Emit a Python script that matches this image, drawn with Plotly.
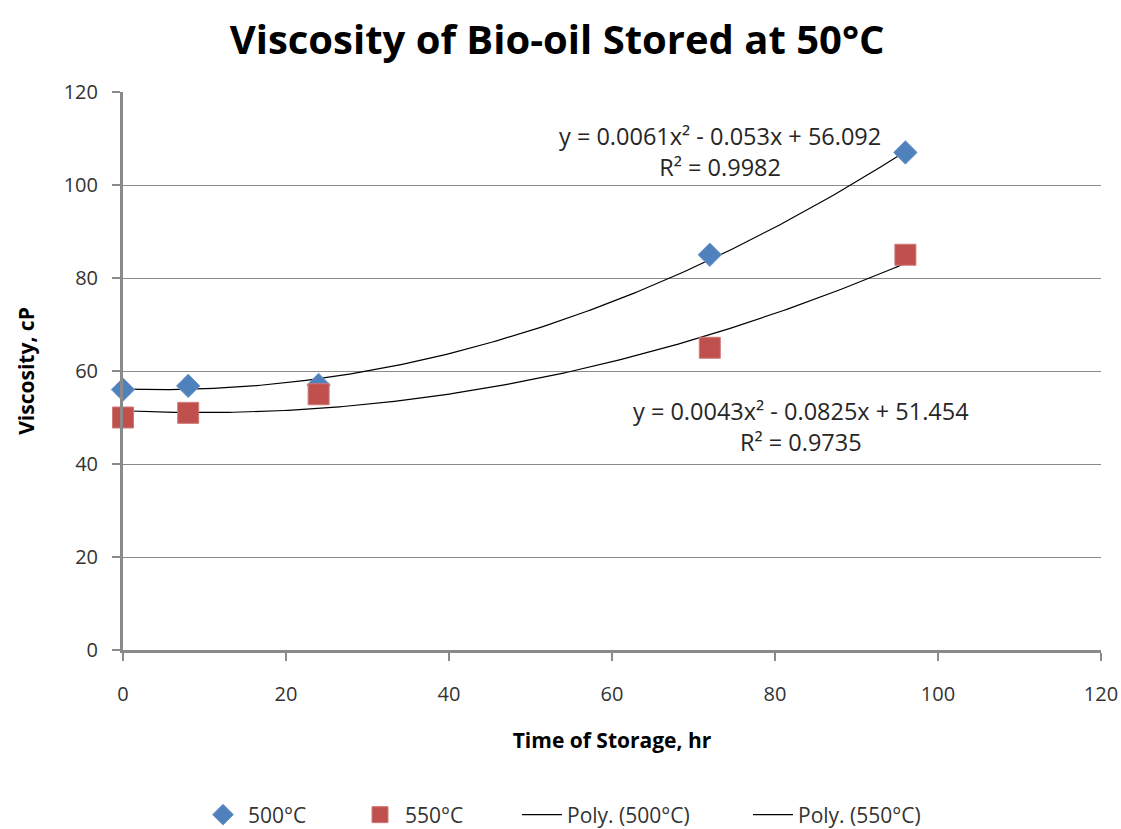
import numpy as np
import plotly.graph_objects as go

# Storage time (hr) and measured viscosity (cP)
hours = [0, 8, 24, 72, 96]
visc_500 = [56, 56.8, 57, 85, 107]
visc_550 = [50, 51, 55, 65, 85]

# Second-order polynomial trendline coefficients (a, b, c) for y = a x^2 + b x + c
coef_500 = [0.0061, -0.053, 56.092]
coef_550 = [0.0043, -0.0825, 51.454]
r2_500 = 0.9982
r2_550 = 0.9735

FONT = "Open Sans"
AXIS_GREY = "#8a8a8a"
TEXT = "#333333"
W, H = 1121, 829

xs = np.linspace(min(hours), max(hours), 200)


def poly(c, x):
    return c[0] * x ** 2 + c[1] * x + c[2]


fig = go.Figure()
# trendlines first so the markers are drawn on top of them
fig.add_trace(go.Scatter(
    x=xs, y=poly(coef_500, xs), mode="lines", name="Poly. (500°C)",
    legend="legend3",
    line=dict(color="black", width=1.2),
))
fig.add_trace(go.Scatter(
    x=xs, y=poly(coef_550, xs), mode="lines", name="Poly. (550°C)",
    legend="legend4",
    line=dict(color="black", width=1.2),
))
fig.add_trace(go.Scatter(
    x=hours, y=visc_500, mode="markers", name="500°C", cliponaxis=False,
    legend="legend",
    marker=dict(symbol="diamond", size=18, color="#4F81BD",
                line=dict(width=1, color="#6f97cc")),
))
fig.add_trace(go.Scatter(
    x=hours, y=visc_550, mode="markers", name="550°C", cliponaxis=False,
    legend="legend2",
    marker=dict(symbol="square", size=21, color="#C0504D",
                line=dict(width=1, color="#d07a78")),
))


def sign_term(v):
    return ("- " if v < 0 else "+ ") + "{}".format(abs(v))


def eq_text(c, r2):
    return ("y = {}x² {}x {}<br>R² = {}".format(
        c[0], sign_term(c[1]), sign_term(c[2]), r2))


fig.add_annotation(x=73.2, y=107.3, xref="x", yref="y", text=eq_text(coef_500, r2_500),
                   showarrow=False, font=dict(family=FONT, size=23.5, color="#262626"),
                   align="center")
fig.add_annotation(x=83.2, y=48, xref="x", yref="y", text=eq_text(coef_550, r2_550),
                   showarrow=False, font=dict(family=FONT, size=23.5, color="#262626"),
                   align="center")


def legend_at(px):
    return dict(orientation="h", xref="container", yref="container",
                x=px / W, xanchor="left", y=(H - 815) / H, yanchor="middle",
                font=dict(family=FONT, size=21, color=TEXT), itemwidth=40,
                bgcolor="rgba(0,0,0,0)")


fig.update_layout(
    width=W, height=H,
    margin=dict(l=123, r=20, t=92, b=179),
    paper_bgcolor="white", plot_bgcolor="white",
    title=dict(text="<b>Viscosity of Bio-oil Stored at 50°C</b>", x=0.497, xanchor="center",
               y=0.952, yanchor="middle",
               font=dict(family=FONT, size=40, color="black")),
    font=dict(family=FONT, size=20, color=TEXT),
    showlegend=True,
    legend=legend_at(198),
    legend2=legend_at(355),
    legend3=legend_at(517),
    legend4=legend_at(748),
)

fig.update_xaxes(
    range=[0, 120], dtick=20, tick0=0, automargin=False,
    showline=True, linecolor=AXIS_GREY, linewidth=3,
    ticks="outside", ticklen=8, tickwidth=2, tickcolor=AXIS_GREY,
    ticklabelstandoff=16,
    showgrid=False, zeroline=False,
    tickfont=dict(family=FONT, size=20, color=TEXT),
    title=dict(text="<b>Time of Storage, hr</b>", standoff=28,
               font=dict(family=FONT, size=21, color="black")),
)
fig.update_yaxes(
    range=[0, 120], dtick=20, tick0=0, automargin=False,
    showline=True, linecolor=AXIS_GREY, linewidth=3,
    ticks="outside", ticklen=8, tickwidth=2, tickcolor=AXIS_GREY,
    ticklabelstandoff=10,
    showgrid=True, gridcolor=AXIS_GREY, gridwidth=1,
    zeroline=False,
    tickfont=dict(family=FONT, size=20, color=TEXT),
    title=dict(text="<b>Viscosity, cP</b>", standoff=24,
               font=dict(family=FONT, size=21, color="black")),
)

fig.write_html("out.html")
